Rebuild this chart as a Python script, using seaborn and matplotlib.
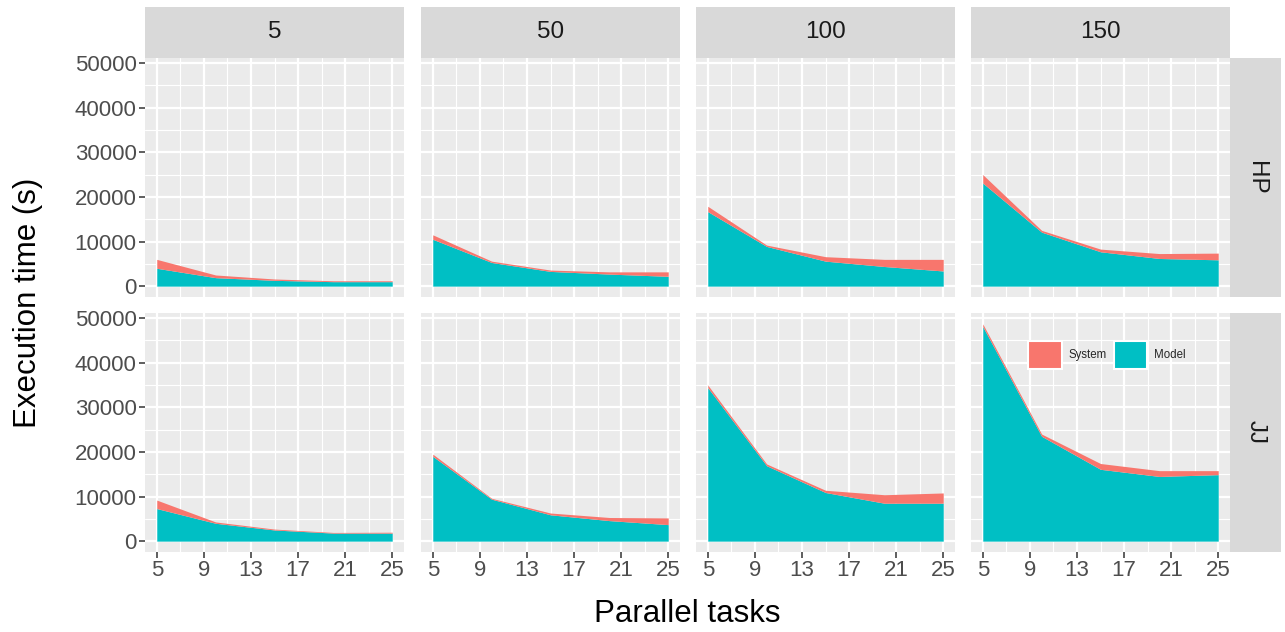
import numpy as np
import matplotlib
matplotlib.use("Agg")
import matplotlib.pyplot as plt
import matplotlib.patches as mpatches
import seaborn as sns

# PART 1: DATA (execution time in seconds)

tasks = [5, 10, 15, 20, 25]
rows = ["HP", "JJ"]
cols = ["5", "50", "100", "150"]

model_hp_5 = [4000, 1900, 1300, 1000, 1000]
system_hp_5 = [2000, 600, 300, 200, 200]
model_hp_50 = [10500, 5300, 3300, 2700, 2200]
system_hp_50 = [1000, 300, 300, 500, 1000]
model_hp_100 = [16700, 8900, 5600, 4400, 3400]
system_hp_100 = [1200, 300, 1000, 1600, 2600]
model_hp_150 = [23100, 12100, 7700, 6200, 5900]
system_hp_150 = [1900, 400, 600, 1100, 1500]

model_jj_5 = [7300, 4000, 2500, 1800, 1800]
system_jj_5 = [1900, 300, 200, 150, 200]
model_jj_50 = [19000, 9400, 5900, 4600, 3700]
system_jj_50 = [500, 200, 400, 700, 1500]
model_jj_100 = [34400, 16900, 10900, 8500, 8500]
system_jj_100 = [600, 400, 500, 1900, 2300]
model_jj_150 = [48100, 23500, 16100, 14500, 14900]
system_jj_150 = [600, 500, 1300, 1300, 900]

model = {
    "HP": [model_hp_5, model_hp_50, model_hp_100, model_hp_150],
    "JJ": [model_jj_5, model_jj_50, model_jj_100, model_jj_150],
}
system = {
    "HP": [system_hp_5, system_hp_50, system_hp_100, system_hp_150],
    "JJ": [system_jj_5, system_jj_50, system_jj_100, system_jj_150],
}

x_ticks = [5, 9, 13, 17, 21, 25]
y_ticks = [0, 10000, 20000, 30000, 40000, 50000]

model_color = "#00BFC4"
system_color = "#F8766D"

# PART 2: STYLE (ggplot-like grey panels)

sns.set_theme(style="darkgrid", rc={
    "axes.facecolor": "#EBEBEB",
    "grid.color": "white",
})
plt.rcParams["font.family"] = ["Liberation Sans", "DejaVu Sans"]

W, H = 1285, 632
fig = plt.figure(figsize=(W / 100, H / 100), dpi=100)


def px_axes(left, top, width, height, **kw):
    return fig.add_axes([left / W, (H - top - height) / H, width / W, height / H], **kw)


col_left = [145, 421, 696, 971]
row_top = [58, 313]
pw, ph = 259, 239

ymax = max(max(np.array(m) + np.array(s)) for r in rows for m, s in zip(model[r], system[r]))
ypad = 0.05 * ymax
xpad = 0.05 * (tasks[-1] - tasks[0])

# PART 3: PANELS

for i, r in enumerate(rows):
    for j, c in enumerate(cols):
        ax = px_axes(col_left[j], row_top[i], pw, ph)
        ax.stackplot(tasks, model[r][j], system[r][j],
                     colors=[model_color, system_color], linewidth=0)
        ax.set_xlim(tasks[0] - xpad, tasks[-1] + xpad)
        ax.set_ylim(-ypad, ymax + ypad)
        ax.set_xticks(x_ticks)
        ax.set_yticks(y_ticks)
        ax.set_xticks([7, 11, 15, 19, 23], minor=True)
        ax.set_yticks([5000, 15000, 25000, 35000, 45000], minor=True)
        ax.grid(which="major", color="white", linewidth=1.6)
        ax.grid(which="minor", color="white", linewidth=0.8)
        for sp in ax.spines.values():
            sp.set_visible(False)
        ax.tick_params(which="minor", length=0)
        ax.tick_params(which="major", length=4, width=1.1, color="#333333",
                       labelsize=16, labelcolor="#4D4D4D", pad=2)
        ax.tick_params(axis="x", bottom=(i == 1), labelbottom=(i == 1))
        ax.tick_params(axis="y", left=(j == 0), labelleft=(j == 0))

        if i == 1 and j == 3:
            handles = [
                mpatches.Patch(facecolor=system_color, edgecolor="white", linewidth=1.5, label="System"),
                mpatches.Patch(facecolor=model_color, edgecolor="white", linewidth=1.5, label="Model"),
            ]
            ax.legend(handles=handles, loc="center", bbox_to_anchor=(0.525, 0.824),
                      ncol=2, frameon=False, fontsize=8.3, handlelength=2.9,
                      handleheight=3.3, handletextpad=0.6, columnspacing=0.6)

        # top strip
        if i == 0:
            st = px_axes(col_left[j], 7, pw, 51, facecolor="#D9D9D9")
            st.set_xticks([])
            st.set_yticks([])
            st.grid(False)
            for sp in st.spines.values():
                sp.set_visible(False)
            st.text(0.5, 0.5, c, ha="center", va="center", fontsize=17.5, color="#1A1A1A",
                    transform=st.transAxes)

    # right strip
    rs = px_axes(1230, row_top[i], 51, ph, facecolor="#D9D9D9")
    rs.set_xticks([])
    rs.set_yticks([])
    rs.grid(False)
    for sp in rs.spines.values():
        sp.set_visible(False)
    rs.text(0.5, 0.5, r, ha="center", va="center", rotation=-90, fontsize=17.5,
            color="#1A1A1A", transform=rs.transAxes)

# PART 4: AXIS TITLES AND SAVE

fig.text(28 / W, 1 - 303 / H, "Execution time (s)", rotation=90, ha="center", va="center",
         fontsize=22.5, color="black")
fig.text(687 / W, 1 - 614 / H, "Parallel tasks", ha="center", va="center",
         fontsize=22.5, color="black")

fig.savefig("out.png", dpi=100)
